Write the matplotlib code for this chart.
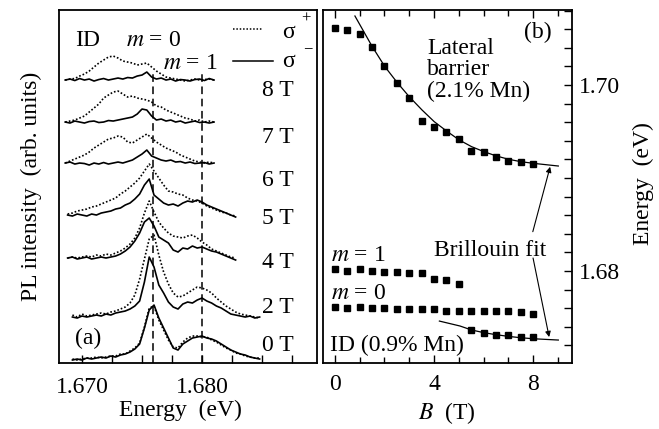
import numpy as np
import matplotlib.pyplot as plt
from matplotlib.ticker import MultipleLocator

plt.rcParams['font.family'] = ['Liberation Serif', 'DejaVu Serif']
plt.rcParams['mathtext.fontset'] = 'stix'

# ---- panel (a): PL spectra, sigma+ (dotted) and sigma- (solid) ----
fields = ['0 T', '2 T', '4 T', '5 T', '6 T', '7 T', '8 T']
offsets = [5, 46, 105, 148, 200, 241, 283]

# energy sampling (eV) for the three groups of spectra
E_low = np.round(1.6692 + 0.0004 * np.arange(40), 4)   # 0 T, 2 T
E_mid = np.round(1.6688 + 0.0004 * np.arange(36), 4)   # 4 T, 5 T
E_high = np.round(1.6686 + 0.0004 * np.arange(32), 4)  # 6 T, 7 T, 8 T

solid_0T = [-2, -1, -2, 0, -1, 0, 1, 0, 2, 1, 3, 4, 6, 9, 14, 30, 48, 53, 40, 30,
            20, 10, 8, 14, 17, 20, 21, 22, 20, 19, 17, 14, 11, 8, 6, 4, 3, 1, 0, -1]
dotted_0T = [-1, -2, -1, 0, 0, 1, 0, 1, 2, 2, 4, 4, 7, 10, 15, 31, 50, 52, 38, 28,
             18, 11, 10, 16, 20, 22, 22, 21, 21, 18, 16, 13, 10, 8, 5, 4, 2, 1, 0, 0]
solid_2T = [0, -1, 1, 0, 1, 2, 1, 3, 2, 4, 5, 6, 8, 11, 16, 35, 60, 50, 32, 24,
            15, 10, 8, 13, 15, 14, 17, 19, 16, 14, 11, 9, 6, 3, 2, 1, 0, 1, -1, 0]
dotted_2T = [2, 0, 3, 1, 2, 3, 4, 3, 5, 6, 8, 10, 14, 22, 38, 58, 78, 82, 62, 45,
             33, 24, 20, 21, 24, 27, 30, 29, 27, 24, 19, 15, 11, 8, 5, 3, 2, 1, 0, -1]
solid_4T = [0, 1, -1, 0, 1, -1, 0, 1, 0, 1, 2, 4, 7, 11, 17, 25, 36, 40, 32, 21,
            18, 15, 8, 6, 10, 9, 12, 10, 11, 9, 7, 6, 4, 2, 0, -2]
dotted_4T = [0, 1, 0, 1, 2, 1, 3, 2, 4, 3, 5, 7, 10, 14, 20, 30, 45, 57, 46, 36,
             30, 25, 22, 21, 20, 22, 23, 20, 16, 13, 9, 7, 5, 3, 1, 0]
solid_5T = [0, -1, 1, 0, -1, 1, 0, 2, 3, 4, 6, 7, 10, 12, 16, 21, 30, 36, 20, 16,
            12, 10, 11, 9, 12, 14, 13, 15, 13, 10, 8, 6, 4, 2, 0, -2]
dotted_5T = [1, 2, 4, 5, 6, 8, 9, 11, 13, 15, 17, 21, 24, 28, 32, 37, 44, 51, 44, 37,
             30, 24, 23, 21, 20, 17, 15, 14, 12, 9, 7, 5, 3, 2, 0, -1]
solid_6T = [0, 1, -1, 0, -0.5, -2, 0, -1, 0.5, -1, 0, 1, 0, 1.5, 3, 6, 9, 13, 7, 5,
            3, 2, 3, 1, 1.5, 0, 1, -0.5, 0, 0.5, -1, 0]
dotted_6T = [0, 2, 4, 6, 8, 11, 15, 18, 21, 24, 25, 27, 26, 21, 20, 23, 26, 29, 25, 21,
             18, 15, 13, 11, 8, 6, 4, 2, 1, 0, 1, 0]
solid_7T = [0, -1, 1, 0, -1, 0.5, 1, -0.5, 0, 1.5, 1, 2, 3, 4, 5, 8, 13, 12, 6, 2,
            3, 1, 2, 0, 1, -1, 0, 1, -0.5, 0, -1, 0]
dotted_7T = [0, 1, 2, 4, 6, 10, 14, 18, 24, 27, 30, 31, 28, 25, 26, 24, 23, 22, 20, 16,
             15, 12, 10, 8, 6, 4, 3, 1, 2, 0, 1, 0]
solid_8T = [0, 1, -0.5, 1.5, 0, 1, -1, 0.5, 1.5, 0, 1, 2, 1, 2.5, 2, 4, 5, 8, 3, 1,
            2, 0, 1, -1, 0.5, 0, -1, 0.5, 1, -0.5, 1.5, 0]
dotted_8T = [0, 1, 1.5, 4, 6, 9, 13, 17, 20, 23, 24, 22, 19, 18, 17, 15, 16, 17, 13, 9,
             6, 3, 2, 1, 0, -1, 0, 1, 0, 0.5, 1, 0]

spectra = [(E_low, solid_0T, dotted_0T), (E_low, solid_2T, dotted_2T),
           (E_mid, solid_4T, dotted_4T), (E_mid, solid_5T, dotted_5T),
           (E_high, solid_6T, dotted_6T), (E_high, solid_7T, dotted_7T),
           (E_high, solid_8T, dotted_8T)]

line_energies = [1.6759, 1.6800]  # m = 0 and m = 1 lines

# ---- panel (b): energies vs field ----
B_half = [0, 0.5, 1, 1.5, 2, 2.5, 3, 3.5, 4, 4.5, 5, 5.5, 6, 6.5, 7, 7.5, 8]
E_barrier = [1.70610, 1.70591, 1.70545, 1.70409, 1.70208, 1.70018, 1.69857, 1.69613,
             1.69545, 1.69495, 1.69416, 1.69290, 1.69280, 1.69226, 1.69186, 1.69169, 1.69147]
B_fit_barrier = [0.81, 1.51, 2.02, 2.52, 3.0, 3.52, 4.01, 4.51, 5.02, 5.52, 6.02,
                 6.52, 7.02, 7.5, 8.01, 9.02]
E_fit_barrier = [1.70742, 1.70412, 1.70197, 1.70025, 1.69875, 1.69731, 1.69606, 1.69505,
                 1.69409, 1.69337, 1.69283, 1.69237, 1.69201, 1.69176, 1.69158, 1.69129]
B_m1 = [0, 0.5, 1, 1.5, 2, 2.5, 3, 3.5, 4, 4.5, 5]
E_m1 = [1.68018, 1.68003, 1.68022, 1.68003, 1.67989, 1.67986, 1.67978, 1.67975,
        1.67910, 1.67903, 1.67860]
E_m0 = [1.67610, 1.67602, 1.67610, 1.67606, 1.67599, 1.67588, 1.67588, 1.67588, 1.67588,
        1.67573, 1.67570, 1.67570, 1.67570, 1.67570, 1.67570, 1.67563, 1.67538]
B_id = [5.5, 6, 6.5, 7, 7.5, 8]
E_id = [1.67366, 1.67337, 1.67315, 1.67308, 1.67287, 1.67294]
B_fit_id = [4.22, 5.05, 5.52, 6.02, 6.52, 7.02, 7.5, 8.01, 9.02]
E_fit_id = [1.67462, 1.67409, 1.67366, 1.67337, 1.67315, 1.67297, 1.67283, 1.67272, 1.67258]

fs = 17
fig = plt.figure(figsize=(6.59, 4.29), dpi=100)
ax1 = fig.add_axes([0.0895, 0.1538, 0.3915, 0.8228])
ax2 = fig.add_axes([0.4901, 0.1538, 0.3778, 0.8228])

# panel (a)
for (E, sol, dot), off in zip(spectra, offsets):
    ax1.plot(E, np.array(sol) + off, color='black', lw=1.2)
    ax1.plot(E, np.array(dot) + off, color='black', lw=1.2, linestyle=(0, (1, 1.2)))
ax1.vlines(line_energies, 0, 291, colors='black', lw=1.1, linestyles=(0, (5, 3)))

label_y = [18, 56, 101, 145, 183, 226, 273]
for lab, yy in zip(fields, label_y):
    ax1.text(1.6850, yy, lab, fontsize=fs, va='center', ha='left')

ax1.text(1.66942, 323, 'ID', fontsize=fs, va='center')
ax1.text(1.67367, 323, r'$m$ = 0', fontsize=fs, va='center')
ax1.text(1.67675, 300, r'$m$ = 1', fontsize=fs, va='center')
ax1.text(1.66942, 25, '(a)', fontsize=fs, va='center')
ax1.plot([1.68258, 1.68508], [334, 334], color='black', lw=1.1, linestyle=(0, (1, 1.2)))
ax1.plot([1.68258, 1.68592], [302, 302], color='black', lw=1.1)
ax1.text(1.68667, 331, 'σ', fontsize=fs, va='center')
ax1.text(1.68830, 344, '+', fontsize=12, va='center')
ax1.text(1.68667, 302, 'σ', fontsize=fs, va='center')
ax1.text(1.68840, 314, '−', fontsize=12, va='center')

ax1.set_xlim(1.66808, 1.68958)
ax1.set_ylim(0, 353)
ax1.set_yticks([])
ax1.xaxis.set_major_locator(MultipleLocator(0.01))
ax1.xaxis.set_minor_locator(MultipleLocator(0.0025))
ax1.xaxis.set_major_formatter(lambda v, p: f'{v:.3f}')
ax1.tick_params(axis='x', which='both', direction='in', length=6, width=1.0,
                labelsize=fs, pad=10)
ax1.set_xlabel('Energy  (eV)', fontsize=fs)
ax1.xaxis.set_label_coords(0.469, -0.105)
ax1.set_ylabel('PL intensity  (arb. units)', fontsize=fs)
ax1.yaxis.set_label_coords(-0.066, 0.5)

# panel (b)
ax2.plot(B_half, E_barrier, 's', color='black', ms=5)
ax2.plot(B_fit_barrier, E_fit_barrier, color='black', lw=0.9)
ax2.plot(B_m1, E_m1, 's', color='black', ms=5)
ax2.plot(B_half, E_m0, 's', color='black', ms=5)
ax2.plot(B_id, E_id, 's', color='black', ms=5)
ax2.plot(B_fit_id, E_fit_id, color='black', lw=0.9)

arrow = dict(arrowstyle='-|>', color='black', lw=0.8, mutation_scale=8, shrinkA=0, shrinkB=0)
ax2.annotate('', xy=(8.69, 1.69121), xytext=(7.99, 1.68423), arrowprops=arrow)
ax2.annotate('', xy=(8.65, 1.67290), xytext=(8.0, 1.68140), arrowprops=arrow)
ax2.text(6.28, 1.68226, 'Brillouin fit', fontsize=fs, ha='center', va='center')
ax2.text(3.72, 1.70161, 'Lateral\nbarrier\n(2.1% Mn)', fontsize=fs, ha='left',
         va='center', linespacing=1.0)
ax2.text(8.2, 1.70570, '(b)', fontsize=fs, ha='center', va='center')
ax2.text(-0.16, 1.68172, r'$m$ = 1', fontsize=fs, va='center')
ax2.text(-0.16, 1.67763, r'$m$ = 0', fontsize=fs, va='center')
ax2.text(-0.2, 1.67204, 'ID (0.9% Mn)', fontsize=fs, va='center')

ax2.set_xlim(-0.48, 9.57)
ax2.set_ylim(1.67011, 1.70806)
ax2.xaxis.set_major_locator(MultipleLocator(4))
ax2.xaxis.set_minor_locator(MultipleLocator(1))
ax2.yaxis.set_major_locator(MultipleLocator(0.02))
ax2.yaxis.set_minor_locator(MultipleLocator(0.002))
ax2.yaxis.set_major_formatter(lambda v, p: f'{v:.2f}')
ax2.yaxis.tick_right()
ax2.yaxis.set_label_position('right')
ax2.tick_params(axis='x', which='both', direction='in', length=6, width=1.0,
                top=True, labelsize=fs, pad=8)
ax2.tick_params(axis='x', which='minor', top=True, length=4)
ax2.tick_params(axis='y', which='both', direction='in', length=6, width=1.0,
                labelsize=fs, pad=5)
ax2.set_xlabel(r'$B$  (T)', fontsize=fs)
ax2.xaxis.set_label_coords(0.498, -0.105)
ax2.set_ylabel('Energy  (eV)', fontsize=fs, rotation=90)
ax2.yaxis.set_label_coords(1.245, 0.507)

for ax in (ax1, ax2):
    for sp in ax.spines.values():
        sp.set_linewidth(1.3)

fig.savefig('out.png', dpi=100)
